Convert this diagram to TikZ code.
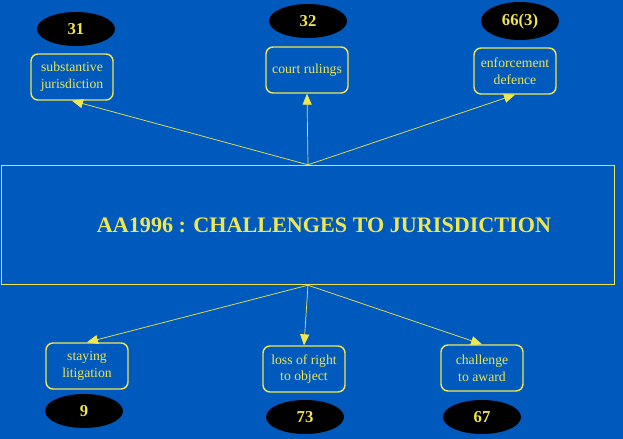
\documentclass[tikz,border=0pt]{standalone}
\usepackage{fontspec}
\setmainfont{Liberation Serif}
\usetikzlibrary{shapes.geometric,arrows}
\definecolor{bgblue}{RGB}{0,90,190}
\definecolor{ink}{RGB}{240,230,80}
\tikzset{
  topic/.style={draw=ink,thick,rounded corners=4pt,text=ink,align=center,
    minimum width=82*0.02cm,minimum height=46*0.02cm,font=\fontsize{7.8}{9.5}\selectfont},
  ref/.style={ellipse,fill=black,text=ink,minimum width=78*0.02cm,
    minimum height=34*0.02cm,font=\fontsize{9.5}{10}\selectfont\bfseries},
  link/.style={draw=ink,-triangle 45}
}
\begin{document}
\begin{tikzpicture}[x=0.02cm,y=-0.02cm]
    \fill[bgblue] (0,0) rectangle (623,439);
    \useasboundingbox (0,0) rectangle (623,439);
    \node[draw=ink,thick,minimum width=613*0.02cm,minimum height=119*0.02cm] (main) at (308,225) {};
    \node[text=ink,font=\fontsize{12.6}{14}\selectfont\bfseries] (title) at (324,225)
      {AA1996 : CHALLENGES TO JURISDICTION};
    %
    \node[topic] (subst) at (72,77) {substantive\\jurisdiction};
    \node[topic] (court) at (307,70) {court rulings};
    \node[topic] (enforce) at (515,71) {enforcement\\defence};
    \node[ref] (r31) at (76,29) {31};
    \node[ref] (r32) at (308,21) {32};
    \node[ref] (r663) at (520,21) {66(3)};
    %
    \node[topic] (stay) at (87,366) {staying\\litigation};
    \node[topic] (loss) at (304,369) {loss of right\\to object};
    \node[topic] (award) at (482,368) {challenge\\to award};
    \node[ref] (r9) at (84,411) {9};
    \node[ref] (r73) at (305,417) {73};
    \node[ref] (r67) at (482,417) {67};
    %
    \draw[link] (main.north) -- (subst.south);
    \draw[link] (main.north) -- (court.south);
    \draw[link] (main.north) -- (enforce.south);
    \draw[link] (main.south) -- (stay.north);
    \draw[link] (main.south) -- (loss.north);
    \draw[link] (main.south) -- (award.north);
\end{tikzpicture}
\end{document}
